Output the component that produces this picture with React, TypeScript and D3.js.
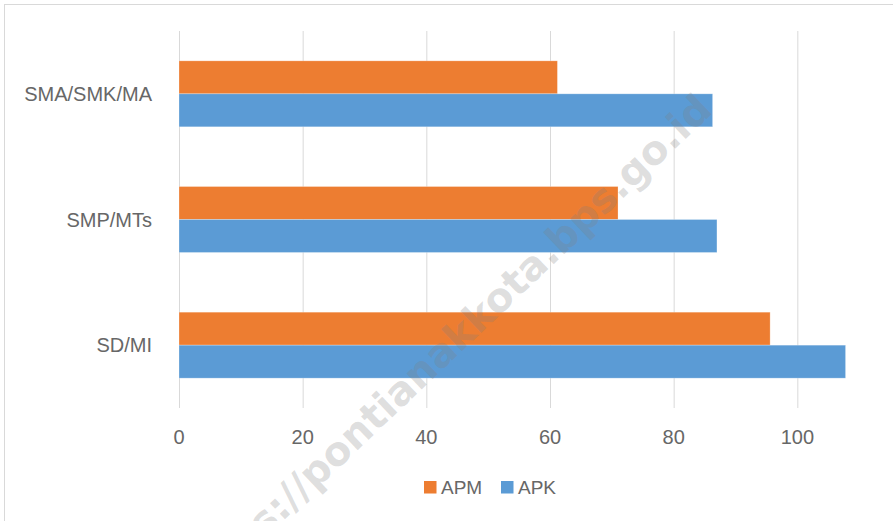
import React, { useEffect, useRef } from 'react';
import * as d3 from 'd3';

const categories = ['SMA/SMK/MA', 'SMP/MTs', 'SD/MI'];
const seriesNames = ['APM', 'APK'];
const apmValues = [61.2, 71.0, 95.6];
const apkValues = [86.3, 87.0, 107.8];
const xTicks = [0, 20, 40, 60, 80, 100, 120];
const xTickLabels = ['0', '20', '40', '60', '80', '100'];
const seriesColors = ['#ED7D31', '#5B9BD5'];
const watermark = 'https://pontianakkota.bps.go.id';

const W = 893;
const H = 521;

const App = () => {
  const svgRef = useRef<SVGSVGElement>(null);

  useEffect(() => {
    document.body.style.margin = '0';
    draw();
  }, []);

  const draw = () => {
    const root = d3.select(svgRef.current);
    root.selectAll('*').remove();
    const font = "'Liberation Sans', Arial, sans-serif";
    const textColor = '#676767';

    const svg = root.attr('width', W).attr('height', H);

    svg.append('rect').attr('width', W).attr('height', H).attr('fill', '#fff');

    // chart border (cropped on the right and bottom)
    svg.append('rect')
      .attr('x', 4.5).attr('y', 4.5)
      .attr('width', W + 20).attr('height', H + 20)
      .attr('fill', 'none')
      .attr('stroke', '#d9d9d9');

    const plotTop = 31;
    const plotBottom = 408;

    const x = d3.scaleLinear().domain([0, 120]).range([179, 921]);

    const y = d3.scaleBand()
      .domain(categories)
      .range([plotTop, plotBottom])
      .paddingInner(0.475)
      .paddingOuter(0.2375);

    const ySub = d3.scaleBand()
      .domain(seriesNames)
      .range([0, y.bandwidth()]);

    // gridlines
    svg.append('g')
      .selectAll('line')
      .data(xTicks)
      .enter()
      .append('line')
      .attr('x1', d => x(d) + 0.5)
      .attr('x2', d => x(d) + 0.5)
      .attr('y1', plotTop)
      .attr('y2', plotBottom)
      .attr('stroke', '#d9d9d9')
      .attr('stroke-width', 1);

    const rows = categories.map((c, i) => ({ cat: c, values: [apmValues[i], apkValues[i]] }));

    const groups = svg.append('g')
      .selectAll('g')
      .data(rows)
      .enter()
      .append('g')
      .attr('transform', d => `translate(0,${y(d.cat)})`);

    groups.selectAll('rect')
      .data(d => d.values.map((v, i) => ({ key: seriesNames[i], v, color: seriesColors[i] })))
      .enter()
      .append('rect')
      .attr('x', x(0))
      .attr('y', d => ySub(d.key)!)
      .attr('width', d => x(d.v) - x(0))
      .attr('height', ySub.bandwidth())
      .attr('fill', d => d.color)
      .attr('stroke', '#fff')
      .attr('stroke-opacity', 0.35)
      .attr('stroke-width', 0.75);

    // category labels
    svg.append('g')
      .selectAll('text')
      .data(categories)
      .enter()
      .append('text')
      .attr('x', 152)
      .attr('y', d => y(d)! + y.bandwidth() / 2)
      .attr('dy', '0.35em')
      .attr('text-anchor', 'end')
      .attr('font-family', font)
      .attr('font-size', 20)
      .attr('fill', textColor)
      .text(d => d);

    // x tick labels
    svg.append('g')
      .selectAll('text')
      .data(xTickLabels)
      .enter()
      .append('text')
      .attr('x', d => x(+d))
      .attr('y', 437)
      .attr('dy', '0.35em')
      .attr('text-anchor', 'middle')
      .attr('font-family', font)
      .attr('font-size', 20)
      .attr('fill', textColor)
      .text(d => d);

    // legend
    const legendX = [424, 501];
    const legend = svg.append('g')
      .selectAll('g')
      .data(seriesNames)
      .enter()
      .append('g')
      .attr('transform', (d, i) => `translate(${legendX[i]},481)`);

    legend.append('rect')
      .attr('width', 12.5)
      .attr('height', 12.5)
      .attr('fill', (d, i) => seriesColors[i]);

    legend.append('text')
      .attr('x', 17)
      .attr('y', 6.5)
      .attr('dy', '0.35em')
      .attr('font-family', font)
      .attr('font-size', 19)
      .attr('fill', textColor)
      .text(d => d);

    // watermark
    svg.append('text')
      .attr('transform', 'translate(714,112) rotate(-43.5)')
      .attr('text-anchor', 'end')
      .attr('font-family', "'DejaVu Sans', sans-serif")
      .attr('font-weight', 'bold')
      .attr('font-size', 40)
      .attr('fill', '#7f7f7f')
      .attr('fill-opacity', 0.26)
      .text(watermark);
  };

  return <svg ref={svgRef}></svg>;
};

export default App;
